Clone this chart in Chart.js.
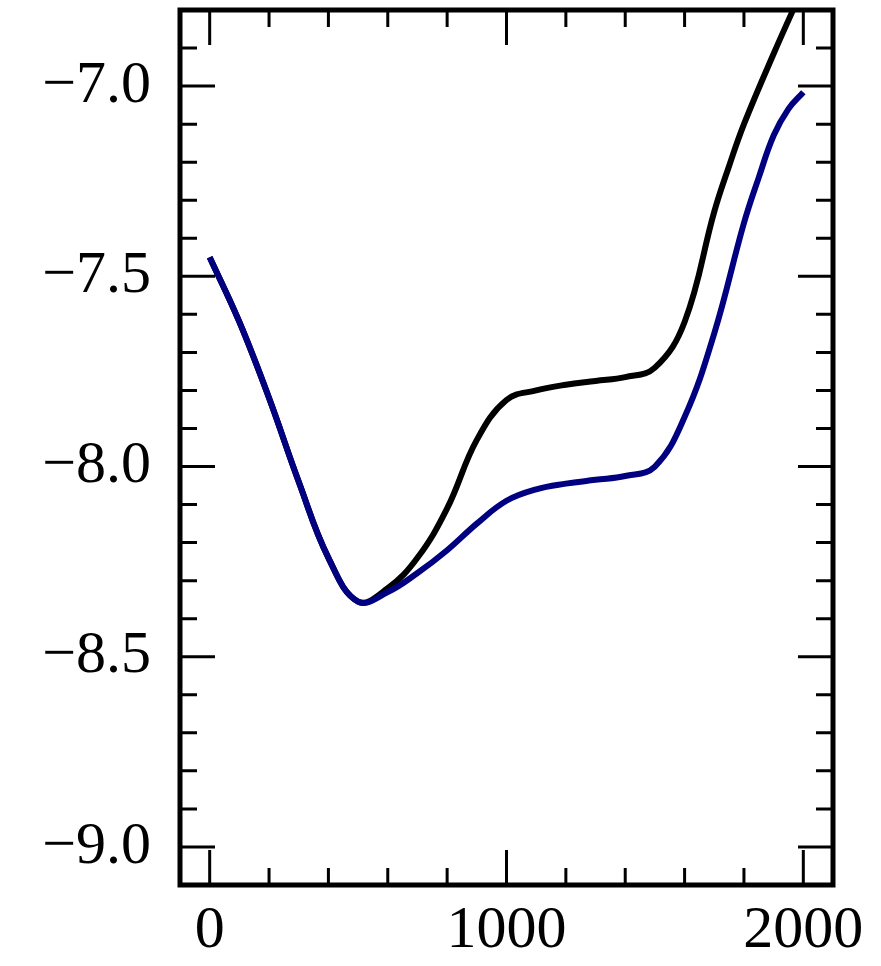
<!DOCTYPE html>
<html>
<head>
<meta charset="utf-8">
<script src="https://cdn.jsdelivr.net/npm/chart.js@4.4.1/dist/chart.umd.min.js"></script>
<style>
  html, body { margin: 0; padding: 0; background: #fff; }
  #wrap { width: 881px; height: 966px; }
</style>
</head>
<body>
<div id="wrap"><canvas id="chart" width="881" height="966"></canvas></div>
<script>
// values
const blackX = [0, 100, 200, 300, 400, 500, 600, 700, 800, 900, 1000, 1100, 1200, 1300, 1400, 1500, 1600, 1700, 1750, 1800, 1900, 2000];
const blackY = [-7.45, -7.62, -7.82, -8.04, -8.24, -8.355, -8.32, -8.24, -8.11, -7.93, -7.825, -7.80, -7.785, -7.775, -7.765, -7.74, -7.62, -7.33, -7.21, -7.10, -6.915, -6.74];
const blueX = [0, 100, 200, 300, 400, 500, 600, 700, 800, 900, 1000, 1100, 1200, 1300, 1400, 1500, 1600, 1700, 1800, 1850, 1900, 1950, 2000];
const blueY = [-7.45, -7.62, -7.82, -8.04, -8.24, -8.355, -8.33, -8.28, -8.22, -8.15, -8.09, -8.06, -8.045, -8.035, -8.025, -8.0, -7.87, -7.65, -7.36, -7.24, -7.13, -7.06, -7.016];

const xLabelTicks = [0, 1000, 2000];
const xMinorTicks = [200, 400, 600, 800, 1200, 1400, 1600, 1800];
const yLabelTicks = [-9.0, -8.5, -8.0, -7.5, -7.0];
const yMinorTicks = [-8.9, -8.8, -8.7, -8.6, -8.4, -8.3, -8.2, -8.1, -7.9, -7.8, -7.7, -7.6, -7.4, -7.3, -7.2, -7.1, -6.9];

const FONT = "'Liberation Serif', 'DejaVu Serif', serif";

function toPoints(xs, ys) {
    return xs.map((x, i) => ({ x: x, y: ys[i] }));
}

// frame + inward ticks on all four sides
const frameTicks = {
    id: 'frameTicks',
    afterDraw(chart) {
        const ctx = chart.ctx;
        const a = chart.chartArea;
        const xs = chart.scales.x, ys = chart.scales.y;
        const major = 35, minor = 17;
        ctx.save();
        ctx.strokeStyle = '#000';
        ctx.lineWidth = 3;
        ctx.beginPath();
        const xt = (v, len) => {
            const p = xs.getPixelForValue(v);
            ctx.moveTo(p, a.bottom); ctx.lineTo(p, a.bottom - len);
            ctx.moveTo(p, a.top); ctx.lineTo(p, a.top + len);
        };
        const yt = (v, len) => {
            const p = ys.getPixelForValue(v);
            ctx.moveTo(a.left, p); ctx.lineTo(a.left + len, p);
            ctx.moveTo(a.right, p); ctx.lineTo(a.right - len, p);
        };
        xLabelTicks.forEach(v => xt(v, major));
        xMinorTicks.forEach(v => xt(v, minor));
        yLabelTicks.forEach(v => yt(v, major));
        yMinorTicks.forEach(v => yt(v, minor));
        ctx.stroke();
        ctx.lineWidth = 5;
        ctx.strokeRect(a.left, a.top, a.right - a.left, a.bottom - a.top);
        ctx.restore();
    }
};

const ctx = document.getElementById('chart').getContext('2d');
new Chart(ctx, {
    type: 'line',
    data: {
        datasets: [
            {
                label: 'blue',
                data: toPoints(blueX, blueY),
                borderColor: '#000080',
                borderWidth: 6,
                pointRadius: 0,
                fill: false,
                tension: 0.4,
                clip: 0
            },
            {
                label: 'black',
                data: toPoints(blackX, blackY),
                borderColor: '#000000',
                borderWidth: 6,
                pointRadius: 0,
                fill: false,
                tension: 0.4,
                clip: 0
            }
        ]
    },
    options: {
        responsive: false,
        animation: false,
        layout: { padding: { top: 10, right: 48, left: 0, bottom: 0 } },
        plugins: {
            legend: { display: false },
            tooltip: { enabled: false }
        },
        scales: {
            x: {
                type: 'linear',
                min: -100,
                max: 2100,
                grid: { display: false, drawTicks: false },
                border: { display: false },
                afterBuildTicks: s => { s.ticks = xLabelTicks.map(v => ({ value: v })); },
                afterFit: s => { s.height = 81; s.paddingLeft = 0; s.paddingRight = 0; },
                ticks: {
                    color: '#000',
                    padding: 10,
                    maxRotation: 0,
                    font: { family: FONT, size: 60 },
                    callback: v => String(v)
                }
            },
            y: {
                type: 'linear',
                min: -9.1,
                max: -6.8,
                grid: { display: false, drawTicks: false },
                border: { display: false },
                afterBuildTicks: s => { s.ticks = yLabelTicks.map(v => ({ value: v })); },
                afterFit: s => { s.width = 180; s.paddingTop = 0; s.paddingBottom = 0; },
                ticks: {
                    color: '#000',
                    padding: 29,
                    font: { family: FONT, size: 60 },
                    callback: v => '\u2212' + Math.abs(v).toFixed(1)
                }
            }
        }
    },
    plugins: [frameTicks]
});
</script>
</body>
</html>
